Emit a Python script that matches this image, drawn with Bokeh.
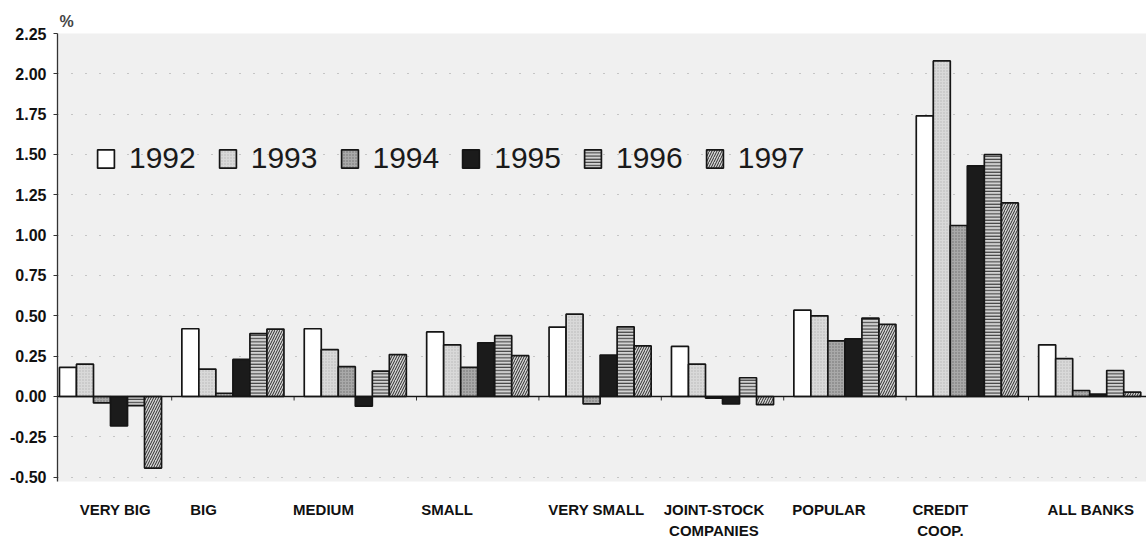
from bokeh.plotting import figure
from bokeh.models import (FixedTicker, NumeralTickFormatter, LinearAxis, Range1d,
                          Span, Legend, LegendItem)
from bokeh.transform import dodge
from bokeh.embed import file_html
from bokeh.resources import INLINE

# Bank groups and yearly values (%)
categories = ["VERY BIG", "BIG", "MEDIUM", "SMALL", "VERY SMALL",
              "JOINT-STOCK\nCOMPANIES", "POPULAR", "CREDIT\nCOOP.", "ALL BANKS"]
years = ["1992", "1993", "1994", "1995", "1996", "1997"]

v1992 = [0.18, 0.42, 0.42, 0.40, 0.43, 0.31, 0.535, 1.74, 0.32]
v1993 = [0.20, 0.17, 0.29, 0.32, 0.51, 0.20, 0.50, 2.08, 0.235]
v1994 = [-0.04, 0.02, 0.185, 0.18, -0.046, -0.01, 0.345, 1.06, 0.037]
v1995 = [-0.183, 0.23, -0.06, 0.333, 0.257, -0.046, 0.357, 1.43, 0.015]
v1996 = [-0.057, 0.39, 0.157, 0.377, 0.432, 0.116, 0.486, 1.50, 0.161]
v1997 = [-0.444, 0.418, 0.26, 0.253, 0.314, -0.051, 0.447, 1.20, 0.027]
series = [v1992, v1993, v1994, v1995, v1996, v1997]

y_ticks = [-0.50, -0.25, 0.00, 0.25, 0.50, 0.75, 1.00, 1.25, 1.50, 1.75, 2.00, 2.25]

# category label placement along the axis (in group units)
label_shift = [0.04, -0.24, -0.26, -0.25, -0.03, -0.07, -0.13, -0.22, 0.01]

# bar styling per year
fills = ["#ffffff", "#d9d9d9", "#a9a9a9", "#1b1b1b", "#d2d2d2", "#d4d4d4"]
hatches = [" ", ".", ".", " ", "-", "/"]
hatch_colors = ["#ffffff", "#b5b5b5", "#6f6f6f", "#1b1b1b", "#2a2a2a", "#2a2a2a"]
hatch_scales = [12, 3, 3, 12, 3.2, 5]
hatch_weights = [1, 1, 1, 1, 1, 1]

n = len(categories)
centers = list(range(n))
bar_w = 0.139

p = figure(width=1146, height=541, output_backend="svg", toolbar_location=None,
           x_range=Range1d(-0.433, 8.464), y_range=Range1d(-0.527, 2.25),
           min_border_left=57, min_border_right=0, min_border_top=33,
           min_border_bottom=53, x_axis_type=None)
p.background_fill_color = "#f0f0f0"
p.border_fill_color = "#ffffff"
p.outline_line_color = None

p.title.text = "%"
p.title.text_font = "Liberation Sans"
p.title.text_font_style = "bold"
p.title.text_font_size = "16px"
p.title.offset = 2
p.title.standoff = 8

renderers = []
for i, (yr, vals) in enumerate(zip(years, series)):
    data = dict(x=centers, top=vals)
    r = p.vbar(x=dodge("x", (i - 2.5) * bar_w), top="top", bottom=0, width=bar_w,
               source=data, fill_color=fills[i], line_color="#151515", line_width=1.7,
               hatch_pattern=hatches[i], hatch_color=hatch_colors[i],
               hatch_scale=hatch_scales[i], hatch_weight=hatch_weights[i])
    renderers.append((yr, r))

# baseline at zero with small ticks between groups
p.add_layout(Span(location=0, dimension="width", line_color="#151515", line_width=1.6))
bounds = [c + 0.5 for c in centers[:-1]]
p.segment(x0=bounds, x1=bounds, y0=[0] * len(bounds), y1=[-0.025] * len(bounds),
          line_color="#333333", line_width=1)

# y axis
yax = p.yaxis[0]
yax.ticker = FixedTicker(ticks=y_ticks)
yax.formatter = NumeralTickFormatter(format="0.00")
yax.major_label_text_font = "Liberation Sans"
yax.major_label_text_font_style = "bold"
yax.major_label_text_font_size = "16px"
yax.major_label_text_color = "#111111"
yax.major_tick_out = 4
yax.major_tick_in = 0
yax.minor_tick_line_color = None
yax.axis_line_color = "#333333"
yax.axis_line_width = 1.3
yax.major_tick_line_color = "#333333"
yax.major_label_standoff = 7

p.ygrid.ticker = FixedTicker(ticks=y_ticks)
p.ygrid.grid_line_color = "#9a9a9a"
p.ygrid.grid_line_dash = "1 13"
p.ygrid.grid_line_width = 1
p.xgrid.grid_line_color = None

# category labels along the bottom
label_x = [round(c + s, 3) for c, s in zip(centers, label_shift)]
xax = LinearAxis(ticker=FixedTicker(ticks=label_x),
                 major_label_overrides={lx: name for lx, name in zip(label_x, categories)})
xax.axis_line_color = None
xax.major_tick_line_color = None
xax.minor_tick_line_color = None
xax.major_label_standoff = 13
xax.major_label_text_font = "Liberation Sans"
xax.major_label_text_font_style = "bold"
xax.major_label_text_font_size = "15px"
xax.major_label_text_color = "#111111"
xax.major_label_text_line_height = 1.25
p.add_layout(xax, "below")

legend = Legend(items=[LegendItem(label=yr, renderers=[r]) for yr, r in renderers],
                orientation="horizontal", location=(38, 306))
legend.background_fill_alpha = 0
legend.border_line_color = None
legend.padding = 0
legend.margin = 0
legend.spacing = 21
legend.glyph_width = 21
legend.glyph_height = 23
legend.label_standoff = 13
legend.label_height = 23
legend.label_text_font = "Liberation Sans"
legend.label_text_font_size = "30px"
legend.label_text_color = "#1a1a1a"
p.add_layout(legend, "center")

open("out.html", "w").write(file_html(p, INLINE))
